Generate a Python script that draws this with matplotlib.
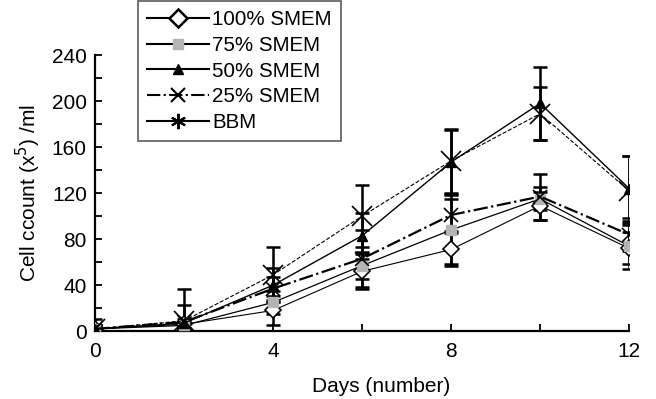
import numpy as np
import matplotlib
matplotlib.use("Agg")
import matplotlib.pyplot as plt
from matplotlib.lines import Line2D

plt.rcParams['font.family'] = ['Liberation Sans', 'DejaVu Sans']

days = [0, 2, 4, 6, 8, 10, 12]

smem100 = [2, 6, 18, 52, 71, 109, 72]
smem75 = [2, 5, 25, 57, 88, 115, 74]
smem50 = [2, 7, 40, 83, 147, 198, 124]
smem25 = [2, 8, 37, 63, 101, 117, 84]
bbm = [2, 9, 49, 100, 148, 189, 122]

err100 = [3, 3, 13, 15, 14, 12, 14]
err75 = [3, 3, 10, 12, 30, 10, 20]
err50 = [3, 4, 15, 20, 28, 32, 28]
err25 = [3, 15, 10, 25, 14, 20, 14]
errbbm = [9, 28, 24, 27, 28, 23, 30]

labels = ['100% SMEM', '75% SMEM', '50% SMEM', '25% SMEM', 'BBM']

fig = plt.figure(figsize=(6.56, 3.99), dpi=100)
ax = fig.add_axes([0.145, 0.170, 0.814, 0.692])

# error bars first, under the lines
for y, e in [(smem100, err100), (smem75, err75), (smem50, err50),
             (smem25, err25), (bbm, errbbm)]:
    ax.errorbar(days, y, yerr=e, fmt='none', ecolor='k', elinewidth=1.8,
                capsize=5, capthick=1.8, zorder=1)

ax.plot(days, smem100, '-', color='k', lw=0.8, marker='D', ms=8,
        mfc='white', mec='k', mew=1.2, zorder=3)
ax.plot(days, smem75, '-', color='k', lw=0.9, marker='s', ms=7,
        mfc='#b4b4b4', mec='#b4b4b4', zorder=3)
ax.plot(days, smem50, '-', color='k', lw=1.0, marker='^', ms=7,
        mfc='k', mec='k', zorder=3)
ax.plot(days, smem25, '-.', color='k', lw=1.6, marker='x', ms=10,
        mew=1.2, zorder=3)
ax.plot(days, bbm, '--', color='k', lw=0.8, marker='x', ms=14,
        mew=1.2, zorder=3)

ax.set_xlim(0, 12)
ax.set_ylim(0, 240)
ax.set_xticks([0, 4, 8, 12])
ax.set_xticks([2, 6, 10], minor=True)
ax.set_yticks(np.arange(0, 241, 40))
ax.set_yticks(np.arange(20, 240, 40), minor=True)
ax.tick_params(which='both', direction='in', length=5, width=1.3,
               labelsize=15)
ax.tick_params(axis='y', pad=6)
ax.tick_params(axis='x', pad=8)
ax.spines['top'].set_visible(False)
ax.spines['right'].set_visible(False)
ax.spines['left'].set_linewidth(1.6)
ax.spines['bottom'].set_linewidth(1.6)
for s in ['left', 'bottom']:
    ax.spines[s].set_clip_on(False)

ax.set_xlabel('Days (number)', fontsize=15, labelpad=10, ha='left')
ax.xaxis.set_label_coords((312 - 95) / 534, -0.165)
ax.set_ylabel('Cell ccount (x$^5$) /ml', fontsize=15, labelpad=6)

handles = [
    Line2D([], [], color='k', lw=1.5, marker='D', ms=9, mfc='white', mec='k', mew=1.8),
    Line2D([], [], color='k', lw=1.5, marker='s', ms=7, mfc='#b4b4b4', mec='#b4b4b4'),
    Line2D([], [], color='k', lw=1.5, marker='^', ms=7, mfc='k', mec='k'),
    Line2D([], [], color='k', lw=1.5, ls='-.', marker='x', ms=10, mew=1.5),
    Line2D([], [], color='k', lw=1.5, marker=(6, 2, 0), ms=11, mew=1.5),
]
leg = fig.legend(handles, labels, loc='lower left',
                 bbox_to_anchor=(138 / 656, 1 - 141 / 399),
                 fontsize=14.8, frameon=True, fancybox=False,
                 handlelength=3.0, handletextpad=0.15, labelspacing=0.32,
                 borderpad=0.45, borderaxespad=0)
leg.get_frame().set_edgecolor('#333333')
leg.get_frame().set_linewidth(1.2)

fig.savefig('out.png', dpi=100)
